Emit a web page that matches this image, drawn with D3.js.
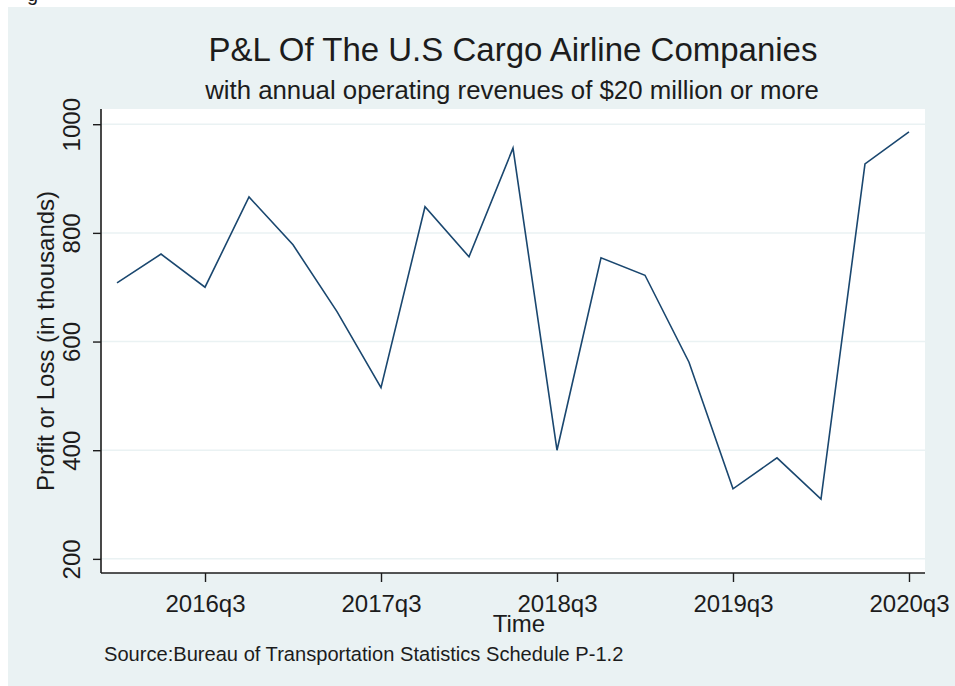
<!DOCTYPE html>
<html lang="en">
<head>
    <meta charset="UTF-8">
    <title>P&amp;L Of The U.S Cargo Airline Companies</title>
    <script src="https://d3js.org/d3.v7.min.js"></script>
    <style>
        body {
            margin: 0;
            background: #fff;
            font-family: "Liberation Sans", Arial, sans-serif;
        }
        svg text {
            fill: #1c1c1c;
        }
    </style>
</head>
<body>

<svg width="955" height="686"></svg>

<script>
    // data
    const quarters = ["2016q1", "2016q2", "2016q3", "2016q4",
                      "2017q1", "2017q2", "2017q3", "2017q4",
                      "2018q1", "2018q2", "2018q3", "2018q4",
                      "2019q1", "2019q2", "2019q3", "2019q4",
                      "2020q1", "2020q2", "2020q3"];
    const profit = [708, 761, 700, 866,
                    778, 655, 515, 848,
                    756, 956, 400, 754,
                    722, 562, 329, 386,
                    310, 927, 986];
    const xTickLabels = ["2016q3", "2017q3", "2018q3", "2019q3", "2020q3"];
    const yTicks = [200, 400, 600, 800, 1000];

    const width = 955, height = 686;
    const plot = { left: 101, right: 925, top: 109, bottom: 573 };
    const navy = "#1a476f", bg = "#eaf2f3";

    const svg = d3.select("svg");

    // page background (the picture has a thin white strip top and left)
    svg.append("rect")
        .attr("x", 8).attr("y", 7)
        .attr("width", width - 8).attr("height", height - 7)
        .attr("fill", bg);

    // cut-off letter at the very top
    svg.append("text")
        .attr("x", 27).attr("y", 1)
        .style("font-size", "20px")
        .text("g");

    svg.append("rect")
        .attr("x", plot.left).attr("y", plot.top)
        .attr("width", plot.right - plot.left).attr("height", plot.bottom - plot.top)
        .attr("fill", "#fff");

    const x = d3.scaleLinear()
        .domain([-0.364, quarters.length - 1 + 0.364])
        .range([plot.left, plot.right]);

    const y = d3.scaleLinear()
        .domain([174, 1028])
        .range([plot.bottom, plot.top]);

    // gridlines
    svg.append("g")
        .selectAll("line")
        .data(yTicks)
        .enter().append("line")
        .attr("x1", plot.left).attr("x2", plot.right)
        .attr("y1", d => y(d)).attr("y2", d => y(d))
        .attr("stroke", bg)
        .attr("stroke-width", 1.5);

    // y axis
    const yAxis = svg.append("g")
        .attr("transform", `translate(${plot.left},0)`)
        .call(d3.axisLeft(y).tickValues(yTicks).tickSize(8).tickPadding(0).tickFormat(d3.format("d")));
    yAxis.select(".domain")
        .attr("d", `M0,${plot.top}V${plot.bottom}`)
        .attr("stroke", "#1c1c1c").attr("stroke-width", 1.6);
    yAxis.selectAll(".tick line").attr("stroke", "#1c1c1c").attr("stroke-width", 1.4);
    yAxis.selectAll(".tick text")
        .attr("x", null).attr("dy", null)
        .attr("transform", "translate(-21,0) rotate(-90)")
        .attr("text-anchor", "middle")
        .style("font-family", "'Liberation Sans', Arial, sans-serif")
        .style("font-size", "24px")
        .attr("fill", "#1c1c1c");

    // x axis
    const tickIdx = xTickLabels.map(l => quarters.indexOf(l));
    const xAxis = svg.append("g")
        .attr("transform", `translate(0,${plot.bottom})`)
        .call(d3.axisBottom(x).tickValues(tickIdx).tickSize(9).tickPadding(0)
            .tickFormat(i => quarters[i]));
    xAxis.select(".domain")
        .attr("d", `M${plot.left},0H${plot.right}`)
        .attr("stroke", "#1c1c1c").attr("stroke-width", 1.6);
    xAxis.selectAll(".tick line").attr("stroke", "#1c1c1c").attr("stroke-width", 1.4);
    xAxis.selectAll(".tick text")
        .attr("y", 39).attr("dy", null)
        .style("font-family", "'Liberation Sans', Arial, sans-serif")
        .style("font-size", "24px")
        .attr("fill", "#1c1c1c");

    // the series
    const line = d3.line()
        .x((d, i) => x(i))
        .y(d => y(d));

    svg.append("path")
        .datum(profit)
        .attr("fill", "none")
        .attr("stroke", navy)
        .attr("stroke-width", 1.6)
        .attr("stroke-linejoin", "miter")
        .attr("d", line);

    // titles
    svg.append("text")
        .attr("x", 513).attr("y", 61)
        .attr("text-anchor", "middle")
        .style("font-size", "33px")
        .text("P&L Of The U.S Cargo Airline Companies");

    svg.append("text")
        .attr("x", 512).attr("y", 99)
        .attr("text-anchor", "middle")
        .style("font-size", "25.8px")
        .text("with annual operating revenues of $20 million or more");

    svg.append("text")
        .attr("x", 519).attr("y", 632)
        .attr("text-anchor", "middle")
        .style("font-size", "24px")
        .text("Time");

    svg.append("text")
        .attr("transform", `translate(54,${(plot.top + plot.bottom) / 2}) rotate(-90)`)
        .attr("text-anchor", "middle")
        .style("font-size", "24px")
        .text("Profit or Loss (in thousands)");

    svg.append("text")
        .attr("x", 104).attr("y", 661)
        .style("font-size", "20.1px")
        .text("Source:Bureau of Transportation Statistics Schedule P-1.2");
</script>

</body>
</html>
